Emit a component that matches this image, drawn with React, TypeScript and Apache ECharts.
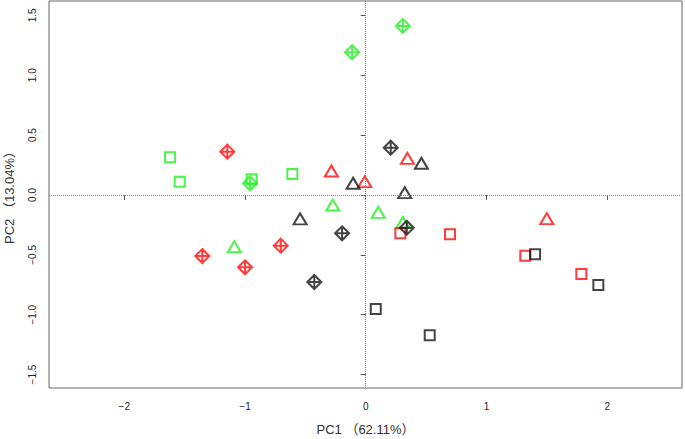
import React, { useEffect, useRef } from "react";
import * as echarts from "echarts";

// PCA scores [PC1, PC2]
const greenSquares = [[-1.621, 0.315], [-1.541, 0.111], [-0.945, 0.131], [-0.608, 0.175]];
const greenTriangles = [[-1.089, -0.432], [-0.273, -0.084], [0.104, -0.145], [0.307, -0.23]];
const greenDiamonds = [[-0.959, 0.098], [-0.113, 1.192], [0.307, 1.412]];

const redSquares = [[0.287, -0.32], [0.698, -0.329], [1.322, -0.507], [1.786, -0.66]];
const redTriangles = [[-0.285, 0.2], [-0.008, 0.111], [0.345, 0.306], [1.5, -0.198]];
const redDiamonds = [[-1.147, 0.362], [-1.354, -0.51], [-1.0, -0.604], [-0.704, -0.423]];

const blackSquares = [[0.083, -0.952], [0.53, -1.172], [1.403, -0.496], [1.927, -0.752]];
const blackTriangles = [[-0.544, -0.2], [-0.105, 0.098], [0.323, 0.019], [0.461, 0.265]];
const blackDiamonds = [[0.207, 0.395], [-0.196, -0.32], [0.34, -0.273], [-0.426, -0.727]];

const xTicks = [-2, -1, 0, 1, 2];
const yTicks = [-1.5, -1, -0.5, 0, 0.5, 1, 1.5];

const xTitle = "PC1 （62.11%）";
const yTitle = "PC2 （13.04%）";

const GREEN = "#1ef01e";
const RED = "#ff0a0a";
const BLACK = "#151515";

const SQUARE = "path://M-1,-1 L1,-1 L1,1 L-1,1 Z";
const TRIANGLE = "path://M0,-1 L0.866,0.5 L-0.866,0.5 Z";
const DIAMOND = "path://M0,-1 L1,0 L0,1 L-1,0 Z M0,-1 L0,1 M-1,0 L1,0";

const FONT = "'Liberation Sans', Arial, 'Noto Sans CJK SC', sans-serif";

function fmt(v: number, digits: number) {
  const s = digits > 0 ? v.toFixed(digits) : String(v);
  return s.replace("-", "\u2212");
}

export default function App() {
  const ref = useRef<HTMLDivElement>(null);
  useEffect(() => {
    if (!ref.current) return;
    const chart = echarts.init(ref.current, undefined, { renderer: "svg" });
    const mk = (data: number[][], color: string, symbol: string, size: number | number[], z = 2) => ({
      type: "scatter",
      data,
      symbol,
      symbolSize: size,
      silent: true,
      z,
      itemStyle: { color: "rgba(0,0,0,0)", borderColor: color, borderWidth: 2 },
    });
    chart.setOption({
      animation: false,
      backgroundColor: "#ffffff",
      grid: {
        left: 49,
        right: 3,
        top: 1,
        bottom: 51,
        show: true,
        outerBoundsMode: "none",
        containLabel: false,
        borderColor: "#666666",
        borderWidth: 1,
        backgroundColor: "transparent",
      },
      xAxis: {
        type: "value",
        min: -2.624,
        max: 2.62,
        splitLine: { show: false },
        axisLine: { show: false },
        axisTick: { show: true, customValues: xTicks, length: 5, lineStyle: { color: "#555" } },
        axisLabel: {
          customValues: xTicks,
          formatter: (v: number) => fmt(v, 0),
          fontSize: 10,
          fontFamily: FONT,
          color: "#222",
          margin: 13,
        },
        name: xTitle,
        nameLocation: "middle",
        nameGap: 35,
        nameTextStyle: { fontSize: 13, fontFamily: FONT, color: "#333" },
      },
      yAxis: {
        type: "value",
        min: -1.612,
        max: 1.62,
        splitLine: { show: false },
        axisLine: { show: false },
        axisTick: { show: true, customValues: yTicks, length: 5, lineStyle: { color: "#555" } },
        axisLabel: {
          customValues: yTicks,
          formatter: (v: number) => fmt(v, 1),
          rotate: 90,
          fontSize: 10,
          fontFamily: FONT,
          color: "#222",
          margin: 12,
        },
        name: yTitle,
        nameLocation: "middle",
        nameRotate: 90,
        nameGap: 33,
        nameTextStyle: { fontSize: 13, fontFamily: FONT, color: "#333" },
      },
      series: [
        {
          type: "scatter",
          data: [],
          silent: true,
          markLine: {
            silent: true,
            symbol: "none",
            label: { show: false },
            lineStyle: { color: "#888", type: "dotted", width: 1 },
            data: [{ xAxis: 0 }, { yAxis: 0 }],
          },
        },
        mk(greenSquares, GREEN, SQUARE, 10),
        mk(greenTriangles, GREEN, TRIANGLE, [13, 11]),
        mk(greenDiamonds, GREEN, DIAMOND, 14),
        mk(redSquares, RED, SQUARE, 10),
        mk(redTriangles, RED, TRIANGLE, [13, 11]),
        mk(redDiamonds, RED, DIAMOND, 14),
        mk(blackSquares, BLACK, SQUARE, 10),
        mk(blackTriangles, BLACK, TRIANGLE, [13, 11]),
        mk(blackDiamonds, BLACK, DIAMOND, 14),
      ],
    });
    return () => chart.dispose();
  }, []);
  return (
    <div
      ref={ref}
      style={{ position: "fixed", left: 0, top: 0, width: 685, height: 439, background: "#fff" }}
    />
  );
}
